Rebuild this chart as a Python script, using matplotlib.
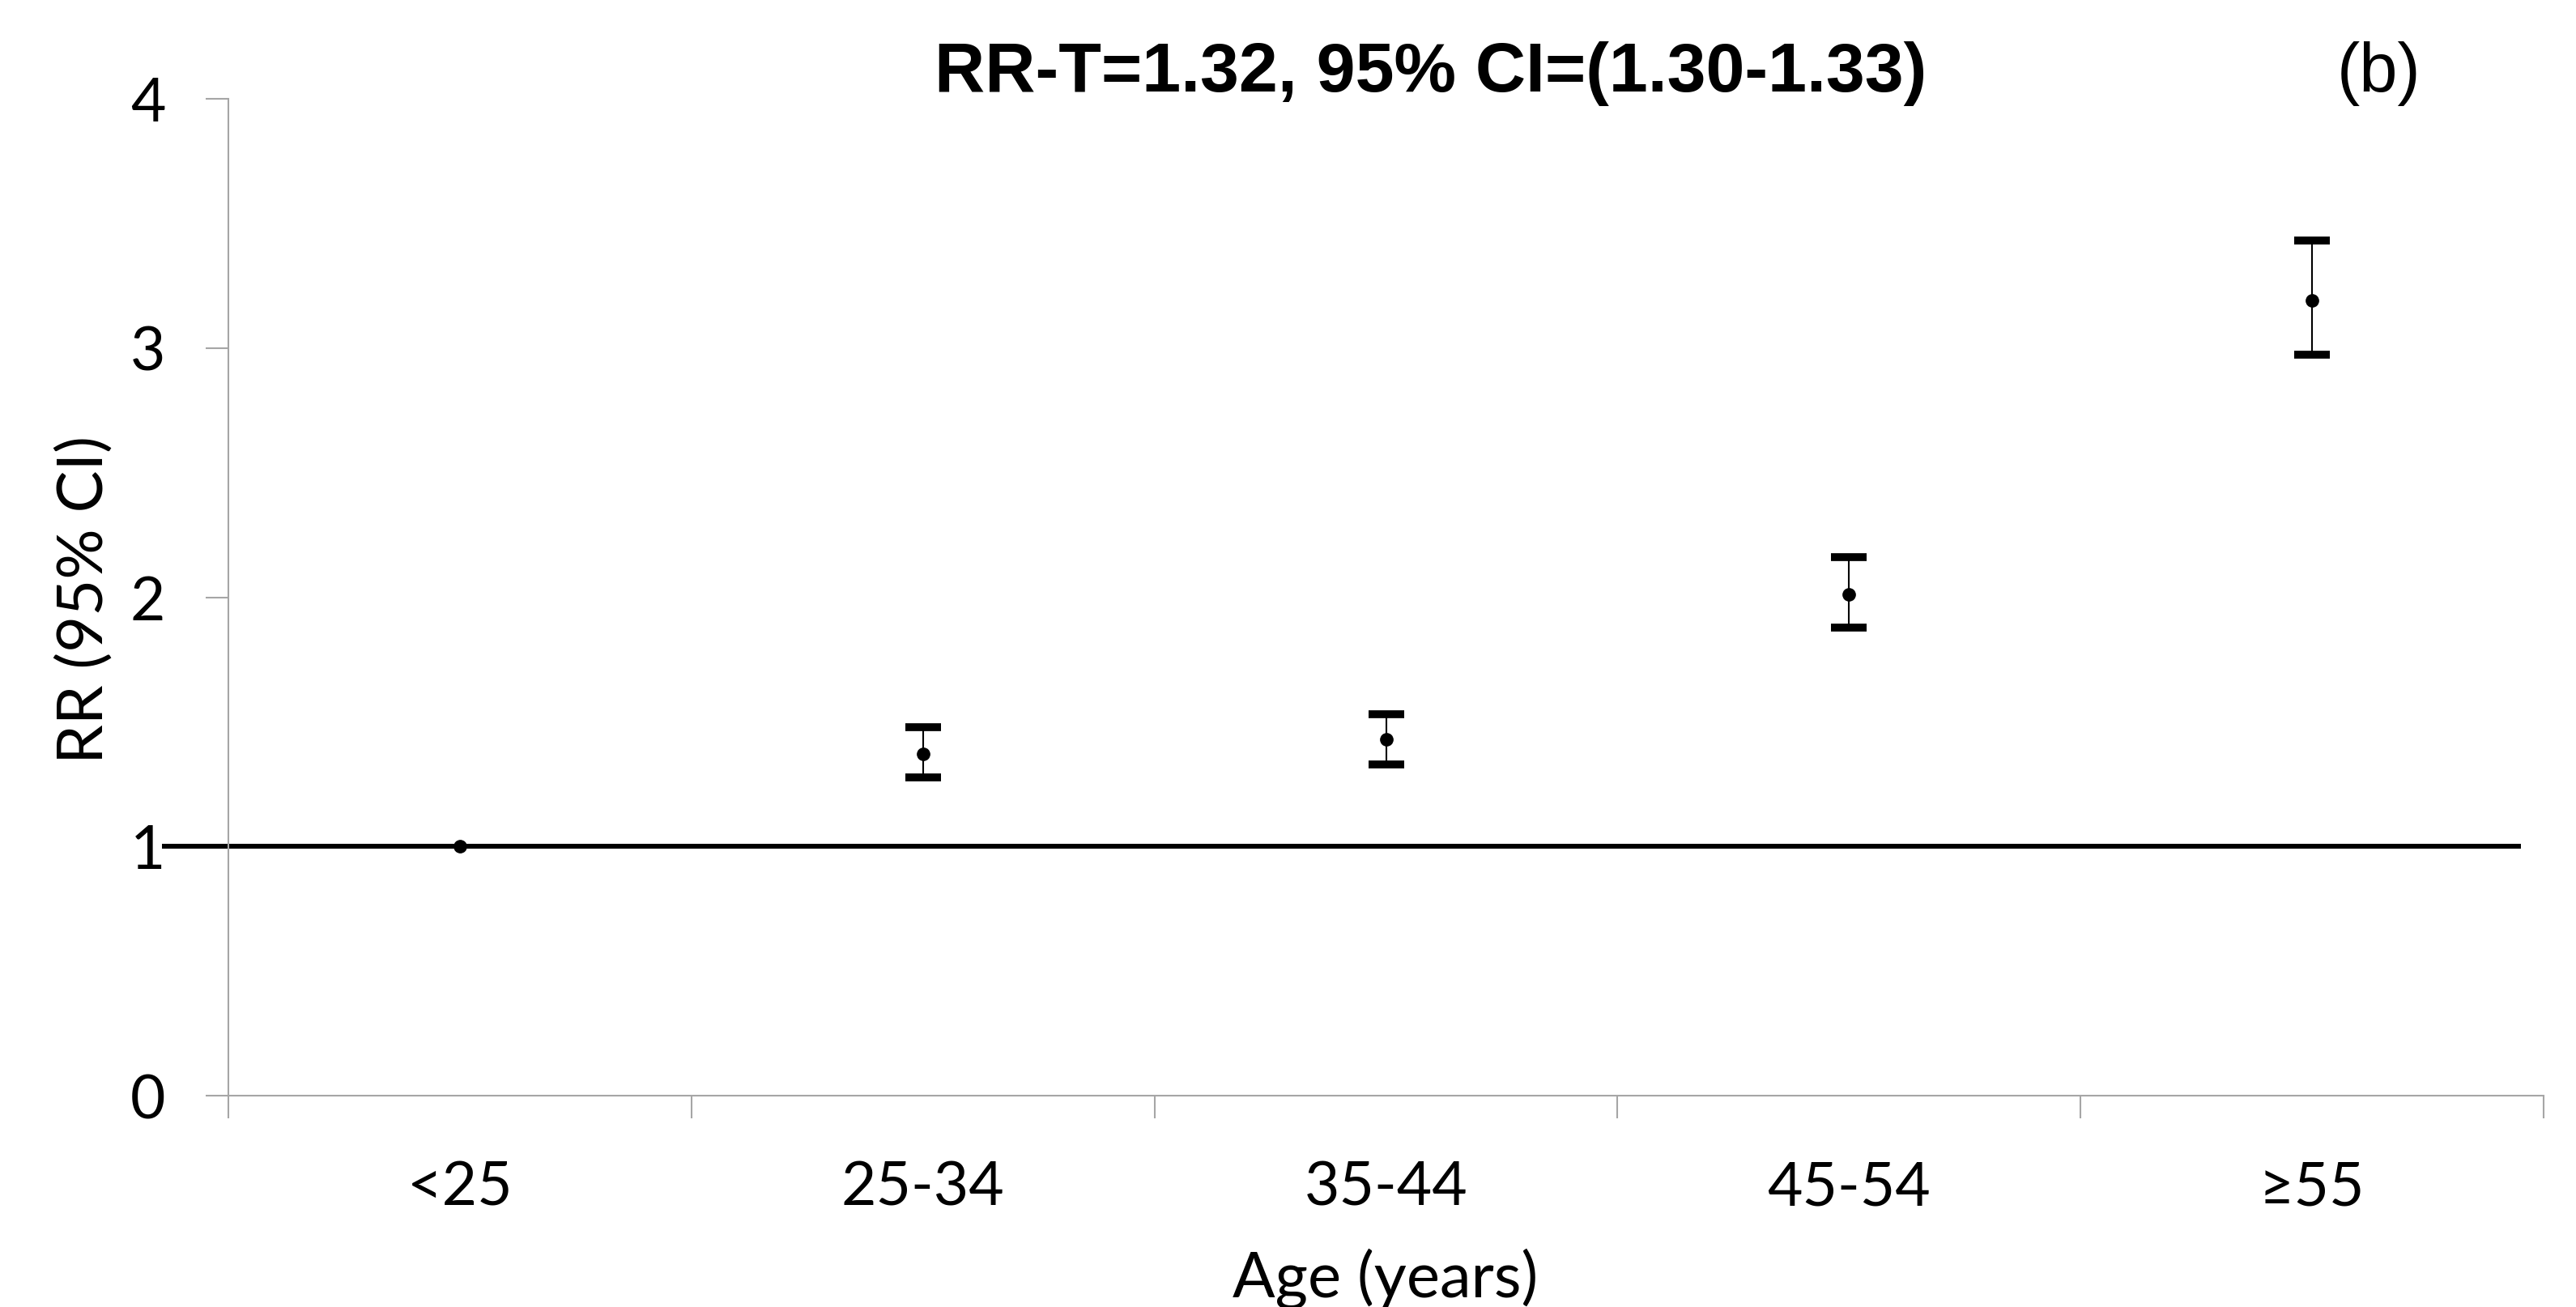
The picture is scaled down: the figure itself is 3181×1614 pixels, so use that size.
import numpy as np
import matplotlib
matplotlib.use('Agg')
import matplotlib.pyplot as plt

plt.rcParams['font.family'] = ['Lato', 'DejaVu Sans']

# data
age_groups = ['<25', '25-34', '35-44', '45-54', '≥55']
rr = [1.00, 1.37, 1.43, 2.01, 3.19]
ci_low = [1.00, 1.277, 1.328, 1.878, 2.972]
ci_high = [1.00, 1.478, 1.529, 2.160, 3.432]
y_ticks = [0, 1, 2, 3, 4]
title_text = 'RR-T=1.32, 95% CI=(1.30-1.33)'
panel_tag = '(b)'

W, H = 3181, 1614
fig = plt.figure(figsize=(W / 100, H / 100), dpi=100)
ax = fig.add_axes([282 / W, 1 - 1353 / H, (3141 - 282) / W, (1353 - 122) / H])

x = np.arange(len(age_groups))
rr = np.array(rr)
lo = np.array(ci_low)
hi = np.array(ci_high)

# reference line RR = 1
ax.axhline(1, xmin=-0.0276, xmax=0.9892, color='black', lw=4.3, clip_on=False, zorder=2)

# error bars only where the interval is non-empty
m = hi > lo
ax.errorbar(x[m], rr[m], yerr=[rr[m] - lo[m], hi[m] - rr[m]], fmt='none',
            ecolor='black', elinewidth=1.5, capsize=15.5, capthick=7, zorder=3)
ax.plot(x, rr, 'o', color='black', markersize=11, zorder=4)

ax.set_xlim(-0.5, len(age_groups) - 0.5)
ax.set_ylim(0, 4)
ax.set_yticks(y_ticks)

# category labels at centres, tick marks at boundaries
ax.set_xticks(x)
ax.set_xticklabels(age_groups)
ax.set_xticks(np.arange(-0.5, len(age_groups)), minor=True)
ax.tick_params(axis='x', which='major', length=0, pad=57, labelsize=54)
ax.tick_params(axis='x', which='minor', length=20, width=1.5, color='#a6a6a6', direction='out')
ax.tick_params(axis='y', length=20, width=1.5, color='#a6a6a6', pad=36, labelsize=54)

for s in ['top', 'right']:
    ax.spines[s].set_visible(False)
for s in ['left', 'bottom']:
    ax.spines[s].set_color('#a6a6a6')
    ax.spines[s].set_linewidth(1.5)

fig.text(105 / W, 1 - 740 / H, 'RR (95% CI)', rotation=90, ha='center', va='center', fontsize=56)
fig.text(1711 / W, 1 - 1602 / H, 'Age (years)', ha='center', va='baseline', fontsize=56)

fig.text(1767 / W, 1 - 113 / H, title_text, ha='center', va='baseline', fontsize=62,
         fontweight='bold', family=['Liberation Sans Narrow', 'Liberation Sans'])
fig.text(2938 / W, 1 - 113 / H, panel_tag, ha='center', va='baseline', fontsize=61,
         family=['Liberation Sans'])

fig.savefig('out.png', dpi=100)
